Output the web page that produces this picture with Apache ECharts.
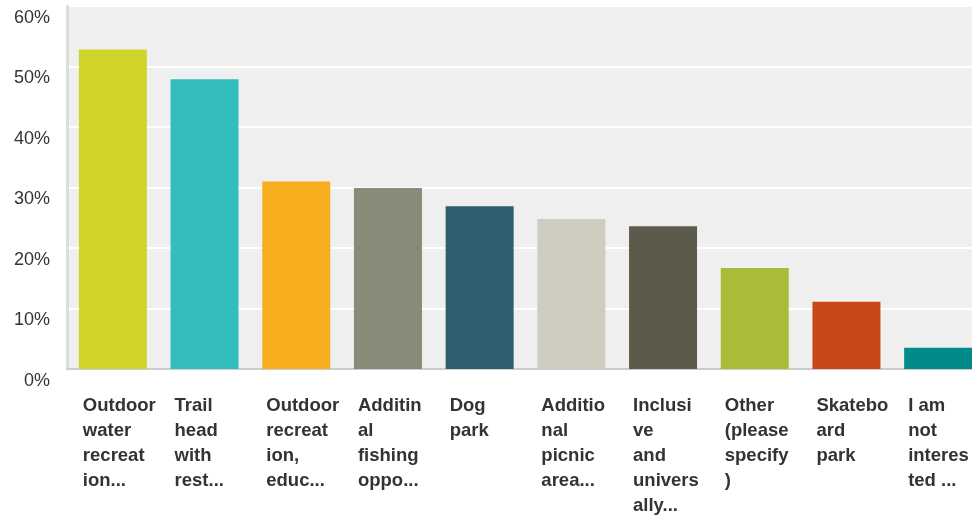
<!DOCTYPE html>
<html>
<head>
<meta charset="utf-8">
<script src="https://cdn.jsdelivr.net/npm/echarts@6/dist/echarts.min.js"></script>
<style>
  html, body { margin: 0; padding: 0; background: #ffffff; overflow: hidden; width: 972px; height: 518px; }
  /* the plot runs slightly past the right edge of the page */
  #chart { width: 984px; height: 518px; }
</style>
</head>
<body>
<div id="chart"></div>
<script>
// Answer options, wrapped into the short lines shown under each bar
const categories = [
  'Outdoor\nwater\nrecreat\nion...',
  'Trail\nhead\nwith\nrest...',
  'Outdoor\nrecreat\nion,\neduc...',
  'Additin\nal\nfishing\noppo...',
  'Dog\npark',
  'Additio\nnal\npicnic\narea...',
  'Inclusi\nve\nand\nunivers\nally...',
  'Other\n(please\nspecify\n)',
  'Skatebo\nard\npark',
  'I am\nnot\ninteres\nted ...'
];

// Share of respondents (%)
const values = [52.8, 47.9, 31.0, 29.9, 26.9, 24.8, 23.6, 16.7, 11.1, 3.5];

const barColors = [
  '#d0d42a', '#33bdbf', '#f7ae1e', '#898a78', '#2f5f6e',
  '#cfcdbf', '#5c5a4b', '#aabb3a', '#c8461a', '#018a8a'
];

const yTicks = { min: 0, max: 60, interval: 10 };

const chart = echarts.init(document.getElementById('chart'), null, { renderer: 'canvas' });

chart.setOption({
  animation: false,
  grid: {
    show: true,
    backgroundColor: '#efefef',
    borderWidth: 0,
    left: 67,
    top: 6,
    right: 0,
    bottom: 148
  },
  xAxis: {
    type: 'category',
    data: categories,
    axisLine: { show: true, lineStyle: { color: '#cccccc', width: 2 } },
    axisTick: { show: false },
    axisLabel: {
      interval: 0,
      margin: 24,
      align: 'left',
      padding: [0, 0, 0, -30],
      fontFamily: 'Liberation Sans, Arial, sans-serif',
      fontSize: 18.5,
      fontWeight: 'bold',
      color: '#333333',
      lineHeight: 25
    }
  },
  yAxis: {
    type: 'value',
    min: yTicks.min,
    max: yTicks.max,
    interval: yTicks.interval,
    axisLine: { show: true, lineStyle: { color: '#dddddd', width: 3 } },
    axisTick: { show: false },
    splitLine: { show: true, lineStyle: { color: '#ffffff', width: 2 } },
    axisLabel: {
      formatter: '{value}%',
      margin: 17,
      verticalAlign: 'top',
      padding: [3, 0, 0, 0],
      fontFamily: 'Liberation Sans, Arial, sans-serif',
      fontSize: 18,
      color: '#333333'
    }
  },
  series: [{
    type: 'bar',
    barWidth: 68,
    data: values.map(function (v, i) {
      return { value: v, itemStyle: { color: barColors[i] } };
    })
  }]
});
</script>
</body>
</html>
